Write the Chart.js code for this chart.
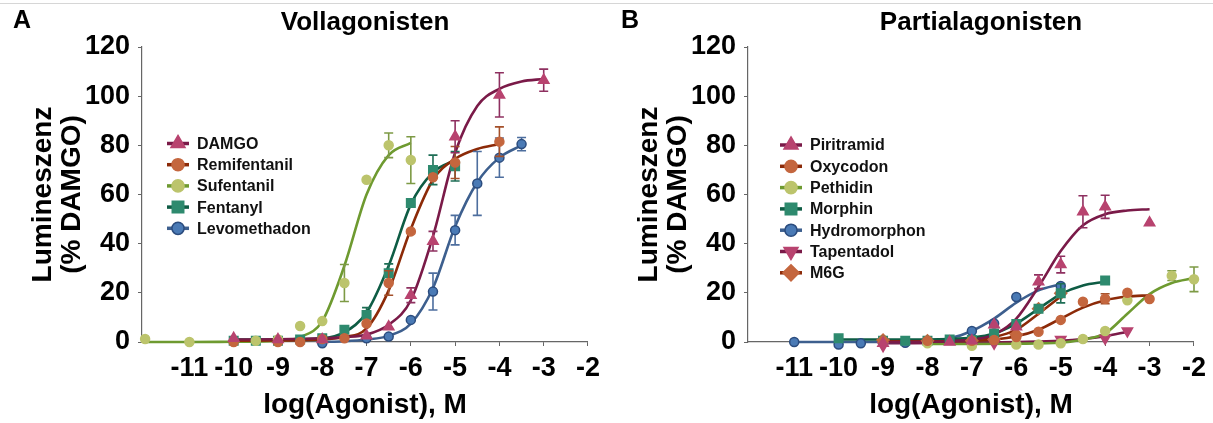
<!DOCTYPE html>
<html>
<head>
<meta charset="utf-8">
<script src="https://cdn.jsdelivr.net/npm/chart.js@4.4.1/dist/chart.umd.min.js"></script>
<style>
  body { margin: 0; background: #fff; }
  #wrap { position: relative; width: 1213px; height: 423px; overflow: hidden; }
  #topline { position: absolute; left: 0; right: 0; top: 3px; border-top: 1px solid #d6d6d6; }
  .panel { position: absolute; top: 0; width: 606px; height: 423px; }
</style>
</head>
<body>
<div id="wrap">
  <div id="topline"></div>
  <div class="panel" style="left:0"><canvas id="chart-a" width="606" height="423"></canvas></div>
  <div class="panel" style="left:606px"><canvas id="chart-b" width="606" height="423"></canvas></div>
</div>
<script>
const FONT = "'Liberation Sans', Arial, sans-serif";

const xTicks = [-11, -10, -9, -8, -7, -6, -5, -4, -3, -2];
const yTicks = [0, 20, 40, 60, 80, 100, 120];

// ---- Panel A: Vollagonisten ----
const damgoX = [-10, -9, -8, -7, -6.5, -6, -5.5, -5, -4, -3];
const damgoY = [1.5, 1, 1, 2.5, 6.2, 19, 41, 83.5, 100.5, 106.5];
const damgoErr = [0, 0, 0, 0, 0, 3, 4, 6.5, 9, 4.5];
const damgoFitX = [-10, -9, -8, -7.5, -7, -6.5, -6, -5.5, -5, -4.5, -4, -3.5, -3];
const damgoFitY = [1, 1.1, 1.5, 2, 3, 7, 17, 43, 77, 96, 103, 106, 107];

const remiX = [-10, -9, -8.5, -8, -7.5, -7, -6.5, -6, -5.5, -5, -4];
const remiY = [0, 0, 0, 1.2, 1.5, 7.5, 24, 45, 67, 73, 81.5];
const remiErr = [0, 0, 0, 0, 0, 0, 5, 0, 0, 6.5, 6];
const remiFitX = [-10, -9, -8, -7.5, -7, -6.5, -6, -5.5, -5, -4.5, -4];
const remiFitY = [0.5, 0.6, 1, 2, 5.5, 21, 46, 66, 74.5, 78.5, 80.5];

const sufX = [-12, -11, -9.5, -9, -8.5, -8, -7.5, -7, -6.5, -6];
const sufY = [1.2, 0, 0.5, 1, 6.5, 8.5, 24, 66, 80, 74];
const sufErr = [0, 0, 0, 0, 0, 0, 7.5, 0, 5, 9.5];
const sufFitX = [-12, -11, -10, -9, -8.5, -8, -7.5, -7, -6.5, -6];
const sufFitY = [0, 0, 0.1, 0.4, 2, 8.5, 31, 60, 76, 81];

const fentX = [-10, -9.5, -9, -8.5, -8, -7.5, -7, -6.5, -6, -5.5, -5];
const fentY = [0.5, 0.5, 0.5, 1, 1.5, 5, 11, 28, 56.5, 70, 71.5];
const fentErr = [0, 0, 0, 0, 0, 0, 3, 3.8, 0, 6, 6];
const fentFitX = [-10, -9, -8, -7.5, -7, -6.5, -6, -5.5, -5];
const fentFitY = [1, 1, 1.5, 4, 12, 31, 56, 69, 74];

const levoX = [-8, -7, -6.5, -6, -5.5, -5, -4.5, -4, -3.5];
const levoY = [-0.5, 1.5, 2.2, 9, 20.5, 45.5, 64.5, 75, 80.5];
const levoErr = [0, 0, 0, 0, 7.5, 6, 13, 8, 2.7];
const levoFitX = [-8, -7.5, -7, -6.5, -6, -5.5, -5, -4.5, -4, -3.5];
const levoFitY = [0, 0.3, 1, 2.5, 7.5, 22, 47, 65, 75, 80];

// ---- Panel B: Partialagonisten ----
const piriX = [-9, -7.5, -7, -6.5, -6, -5.5, -5, -4.5, -4, -3];
const piriY = [-0.5, 0, 0.5, 7, 6.2, 24.5, 31.5, 53, 55, 48.5];
const piriErr = [0, 0, 0, 0, 0, 2.8, 3.4, 6.5, 4.7, 0];
const piriFitX = [-9, -8, -7.5, -7, -6.5, -6, -5.5, -5, -4.5, -4, -3.5, -3];
const piriFitY = [0, 0.1, 0.3, 1, 3, 9.5, 22.5, 37, 47.5, 52, 53.5, 54];

const oxyX = [-9, -8, -7, -6.5, -6, -5.5, -5, -4.5, -4, -3.5, -3];
const oxyY = [0.5, 0.5, 0.5, 0.8, 2, 4.2, 9, 16.4, 17.6, 20, 17.5];
const oxyErr = [0, 0, 0, 0, 0, 0, 0, 0, 2, 0, 0];
const oxyFitX = [-9, -8, -7, -6.5, -6, -5.5, -5, -4.5, -4, -3.5, -3];
const oxyFitY = [0.3, 0.3, 0.5, 1, 2.3, 5, 9.5, 14, 17, 18.5, 19];

const pethX = [-8, -7, -6, -5.5, -5, -4.5, -4, -3.5, -2.5, -2];
const pethY = [-0.5, -1.5, -1, -1, -0.5, 1.2, 4.5, 17, 27, 25.5];
const pethErr = [0, 0, 0, 0, 0, 0, 0, 0, 2, 5];
const pethFitX = [-8, -7, -6, -5, -4.5, -4, -3.5, -3, -2.5, -2];
const pethFitY = [-0.8, -0.8, -0.7, -0.3, 1, 3.5, 11.5, 19.5, 24, 26];

const morphX = [-10, -9, -8.5, -8, -7.5, -7, -6.5, -6, -5.5, -5, -4];
const morphY = [1.5, 0.5, 0.5, 0.5, 1, 0.8, 3.5, 7.3, 13.5, 19.8, 25];
const morphErr = [0, 0, 0, 0, 0, 0, 0, 0, 0, 3.9, 0];
const morphFitX = [-10, -9, -8, -7.5, -7, -6.5, -6, -5.5, -5, -4.5, -4];
const morphFitY = [1, 1, 1, 1.2, 1.8, 3.5, 7.5, 13.5, 19.5, 23, 24.5];

const hydroX = [-11, -10, -9.5, -8.5, -8, -7, -6.5, -6, -5];
const hydroY = [0, -1, -0.5, -0.3, 0, 4.5, 7.5, 18.3, 22.8];
const hydroErr = [0, 0, 0, 0, 0, 0, 0, 0, 0];
const hydroFitX = [-11, -10, -9, -8, -7.5, -7, -6.5, -6, -5.5, -5];
const hydroFitY = [0, 0, 0, 0.5, 1.5, 4.5, 9.5, 16, 21, 23.5];

const tapX = [-9, -6.5, -5, -4, -3.5];
const tapY = [-1.5, -0.5, 1, 1.5, 4.5];
const tapErr = [0, 0, 0, 0, 0];
const tapFitX = [-9, -7, -6, -5, -4.5, -4, -3.5];
const tapFitY = [-0.5, -0.3, 0, 0.5, 1.2, 2.4, 4.2];

const m6gX = [-9, -8, -7, -6.5, -6, -5.5, -5];
const m6gY = [0.8, 0.5, 0.5, 1, 3, 13.5, 19.8];
const m6gErr = [0, 0, 0, 0, 0, 0, 0];
const m6gFitX = [-9, -8, -7, -6.5, -6, -5.5, -5];
const m6gFitY = [0.3, 0.5, 1, 2, 5, 11.5, 18.5];

const PINK = '#b8436f', MAROON = '#7a1a48';
const ORANGE = '#c4663e', BROWN = '#8c2a08';
const OLIVE = '#bcc46c', GREEN = '#6e9a30';
const TEAL = '#2e8a6e', DKTEAL = '#0e5c44';
const BLUE = '#4a7ab5', NAVY = '#2b4c7e', BLUELINE = '#3d5f8e';

const drugsA = [
  { label: 'DAMGO', x: damgoX, y: damgoY, err: damgoErr, fx: damgoFitX, fy: damgoFitY, style: 'triangle', r: 6, fill: PINK, edge: PINK, line: MAROON, bar: '#8e3060' },
  { label: 'Remifentanil', x: remiX, y: remiY, err: remiErr, fx: remiFitX, fy: remiFitY, style: 'circle', r: 4.5, fill: ORANGE, edge: ORANGE, line: BROWN, bar: '#a4502a' },
  { label: 'Sufentanil', x: sufX, y: sufY, err: sufErr, fx: sufFitX, fy: sufFitY, style: 'circle', r: 4.5, fill: OLIVE, edge: OLIVE, line: GREEN, bar: '#7d9a45' },
  { label: 'Fentanyl', x: fentX, y: fentY, err: fentErr, fx: fentFitX, fy: fentFitY, style: 'rect', r: 6, fill: TEAL, edge: TEAL, line: DKTEAL, bar: '#1e6e55' },
  { label: 'Levomethadon', x: levoX, y: levoY, err: levoErr, fx: levoFitX, fy: levoFitY, style: 'circle', r: 4.5, fill: BLUE, edge: NAVY, line: BLUELINE, bar: '#4d6e9e' }
];

const drugsB = [
  { label: 'Piritramid', x: piriX, y: piriY, err: piriErr, fx: piriFitX, fy: piriFitY, style: 'triangle', r: 6, fill: PINK, edge: PINK, line: MAROON, bar: '#8e3060' },
  { label: 'Oxycodon', x: oxyX, y: oxyY, err: oxyErr, fx: oxyFitX, fy: oxyFitY, style: 'circle', r: 4.5, fill: ORANGE, edge: ORANGE, line: BROWN, bar: '#a4502a' },
  { label: 'Pethidin', x: pethX, y: pethY, err: pethErr, fx: pethFitX, fy: pethFitY, style: 'circle', r: 4.5, fill: OLIVE, edge: OLIVE, line: GREEN, bar: '#7d9a45' },
  { label: 'Morphin', x: morphX, y: morphY, err: morphErr, fx: morphFitX, fy: morphFitY, style: 'rect', r: 6, fill: TEAL, edge: TEAL, line: DKTEAL, bar: '#1e6e55' },
  { label: 'Hydromorphon', x: hydroX, y: hydroY, err: hydroErr, fx: hydroFitX, fy: hydroFitY, style: 'circle', r: 4.5, fill: BLUE, edge: NAVY, line: BLUELINE, bar: '#4d6e9e' },
  { label: 'Tapentadol', x: tapX, y: tapY, err: tapErr, fx: tapFitX, fy: tapFitY, style: 'triangle', rot: 180, r: 6, fill: PINK, edge: PINK, line: MAROON, bar: '#8e3060' },
  { label: 'M6G', x: m6gX, y: m6gY, err: m6gErr, fx: m6gFitX, fy: m6gFitY, style: 'rectRot', r: 6, fill: ORANGE, edge: ORANGE, line: BROWN, bar: '#a4502a' }
];

// error bars, drawn just before each point dataset
const errorBars = {
  id: 'errorBars',
  beforeDatasetDraw(chart, args) {
    const ds = chart.data.datasets[args.index];
    if (!ds.errors) return;
    const { ctx, scales: { x, y } } = chart;
    ctx.save();
    ctx.strokeStyle = ds.barColor;
    ctx.lineWidth = 1.6;
    ds.data.forEach((p, i) => {
      const e = ds.errors[i];
      if (!e) return;
      const px = x.getPixelForValue(p.x);
      const top = y.getPixelForValue(p.y + e), bot = y.getPixelForValue(p.y - e);
      ctx.beginPath();
      ctx.moveTo(px, top); ctx.lineTo(px, bot);
      ctx.moveTo(px - 4.5, top); ctx.lineTo(px + 4.5, top);
      ctx.moveTo(px - 4.5, bot); ctx.lineTo(px + 4.5, bot);
      ctx.stroke();
    });
    ctx.restore();
  }
};

// legend with line + marker, and panel letter / title
const drugLegend = {
  id: 'drugLegend',
  afterDraw(chart, args, opts) {
    const ctx = chart.ctx;
    ctx.save();
    chart.data.datasets.filter(ds => ds.errors).forEach((ds, i) => {
      const cx = opts.x, cy = opts.y + i * opts.step;
      ctx.strokeStyle = ds.legendLine;
      ctx.lineWidth = 3.5;
      ctx.beginPath(); ctx.moveTo(cx - 11, cy); ctx.lineTo(cx + 11, cy); ctx.stroke();
      ctx.fillStyle = ds.backgroundColor;
      ctx.strokeStyle = ds.borderColor;
      ctx.lineWidth = 1.5;
      Chart.helpers.drawPoint(ctx, { pointStyle: ds.pointStyle, radius: ds.pointRadius * 1.35, rotation: ds.pointRotation || 0, borderWidth: 1.5 }, cx, cy);
      ctx.fillStyle = '#111';
      ctx.font = 'bold 16px ' + FONT;
      ctx.textAlign = 'left';
      ctx.textBaseline = 'middle';
      ctx.fillText(ds.label, cx + 19, cy + 1);
    });
    const area = chart.chartArea;
    ctx.fillStyle = '#000';
    ctx.textBaseline = 'middle';
    ctx.font = 'bold 25px ' + FONT;
    ctx.textAlign = 'left';
    ctx.fillText(opts.letter, opts.letterX, 21);
    ctx.font = 'bold 26px ' + FONT;
    ctx.textAlign = 'center';
    ctx.fillText(opts.title, (area.left + area.right) / 2 + opts.titleShift, 23);
    ctx.restore();
  }
};

function makePanel(id, drugs, xMin, head) {
  const datasets = [];
  drugs.forEach(d => {
    datasets.push({
      type: 'line', label: d.label + ' Fit',
      data: d.fx.map((v, i) => ({ x: v, y: d.fy[i] })),
      borderColor: d.line, borderWidth: 2.6, pointRadius: 0,
      cubicInterpolationMode: 'monotone', fill: false, order: 2, clip: false
    });
    datasets.push({
      type: 'scatter', label: d.label,
      data: d.x.map((v, i) => ({ x: v, y: d.y[i] })),
      errors: d.err, barColor: d.bar, legendLine: d.line,
      backgroundColor: d.fill, borderColor: d.edge, borderWidth: 1.5,
      pointStyle: d.style, pointRadius: d.r, pointRotation: d.rot || 0,
      order: 1, clip: false
    });
  });

  const tickFont = { family: FONT, size: 27, weight: 'bold' };
  const titleFont = { family: FONT, size: 28, weight: 'bold', lineHeight: 1.04 };

  return new Chart(document.getElementById(id), {
    type: 'scatter',
    data: { datasets },
    plugins: [errorBars, drugLegend],
    options: {
      responsive: false,
      animation: false,
      layout: { padding: { left: 0, top: 47, right: 16, bottom: 0 } },
      plugins: {
        legend: { display: false },
        tooltip: { enabled: false },
        drugLegend: head
      },
      scales: {
        x: {
          type: 'linear', min: xMin, max: -2,
          afterBuildTicks: s => { s.ticks = xTicks.map(v => ({ value: v })); },
          afterFit: s => { s.height = 81; },
          ticks: { font: tickFont, color: '#000', padding: 6, maxRotation: 0, autoSkip: false },
          grid: { drawOnChartArea: false, tickLength: 4, color: '#666' },
          border: { color: '#666', width: 1.2 },
          title: { display: true, text: 'log(Agonist), M', font: titleFont, color: '#000', padding: { top: 0, bottom: 3.5 } }
        },
        y: {
          min: 0, max: 120,
          afterBuildTicks: s => { s.ticks = yTicks.map(v => ({ value: v })); },
          afterFit: s => { s.width = 142; },
          ticks: { font: tickFont, color: '#000', padding: 8 },
          grid: { drawOnChartArea: false, tickLength: 4, color: '#666' },
          border: { color: '#666', width: 1.2 },
          title: { display: true, text: ['Lumineszenz', '(% DAMGO)'], font: titleFont, color: '#000', padding: { top: 28.5, bottom: 0 } }
        }
      }
    }
  });
}

makePanel('chart-a', drugsA, -12.07, { x: 178, y: 143.5, step: 21.2, letter: 'A', letterX: 13, title: 'Vollagonisten', titleShift: 0 });
makePanel('chart-b', drugsB, -12.04, { x: 185, y: 145, step: 21.3, letter: 'B', letterX: 15, title: 'Partialagonisten', titleShift: 10 });
</script>
</body>
</html>
